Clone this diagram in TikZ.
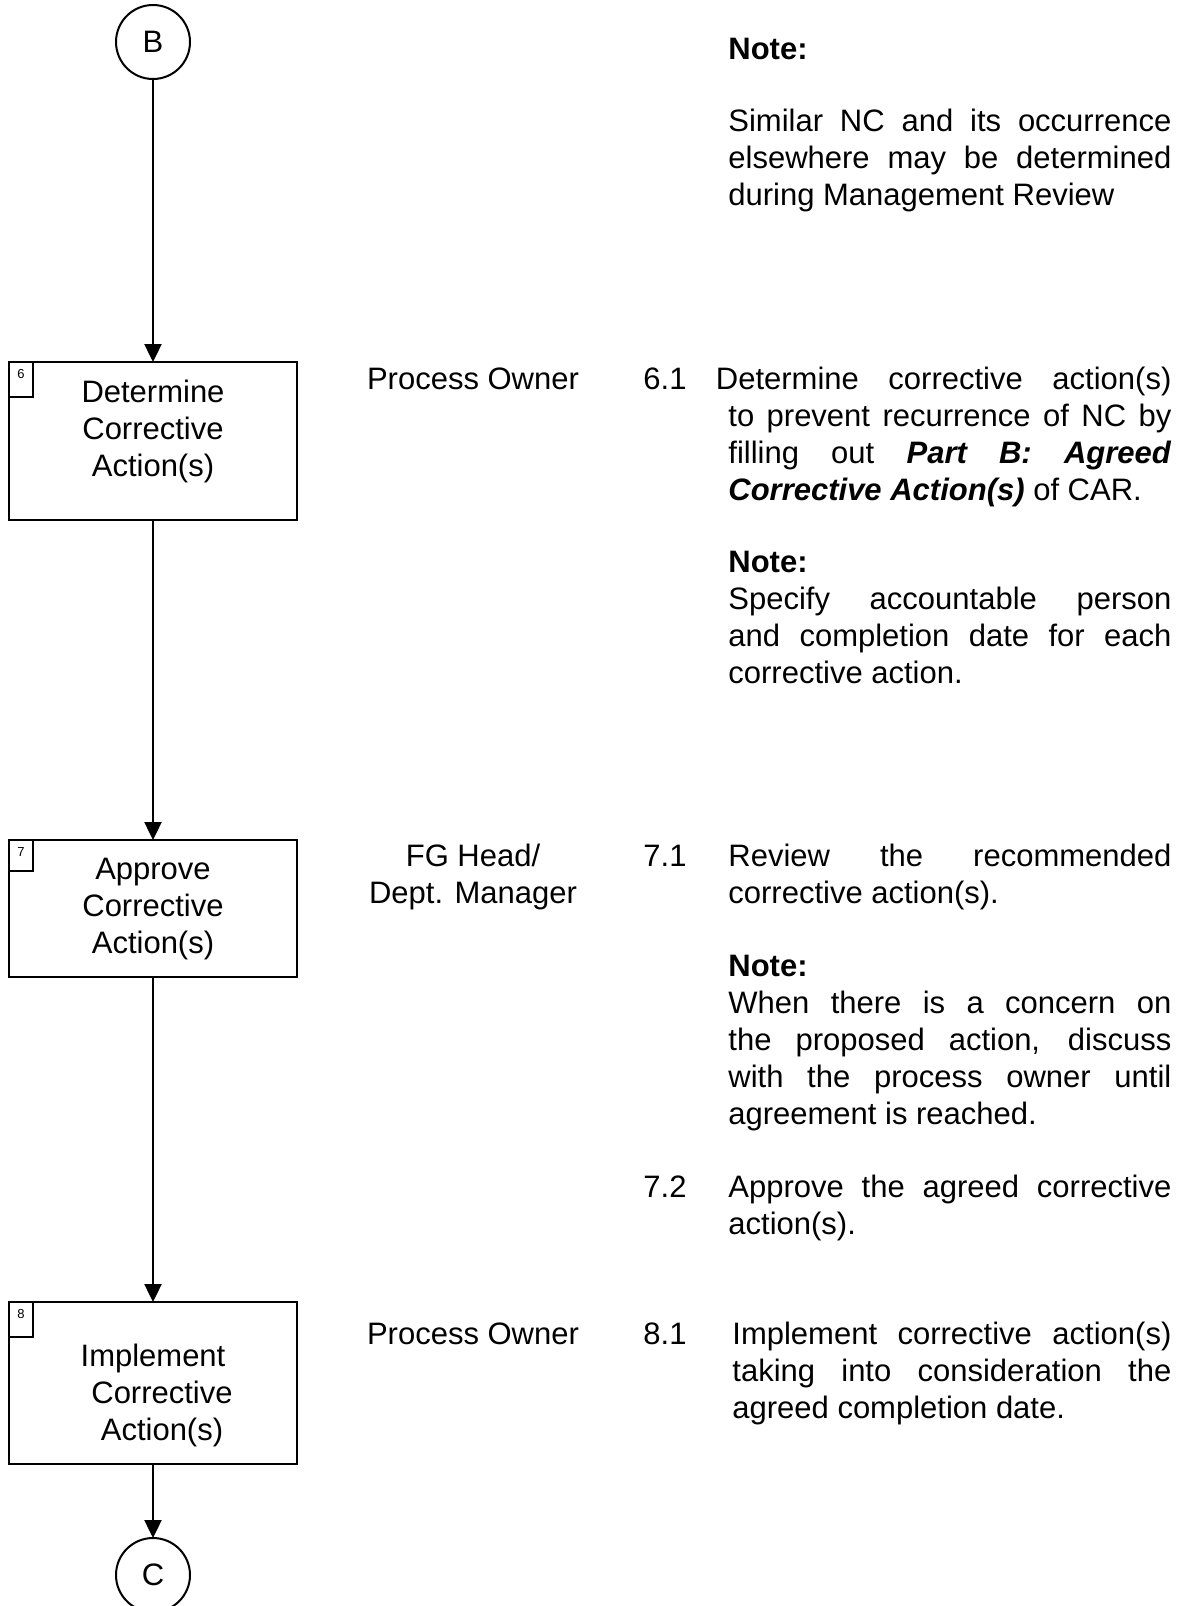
\documentclass[tikz,border=0pt]{standalone}
\usepackage{fontspec}
\setmainfont{Liberation Sans}
\usetikzlibrary{positioning,arrows.meta}

\newcommand{\stepfont}{\fontsize{15.5pt}{18.5pt}\selectfont}
\newcommand{\numfont}{\fontsize{6.5pt}{7.5pt}\selectfont}
\hyphenpenalty=10000
\tolerance=10000

\tikzset{
  stepbox/.style={draw, line width=1.2pt, minimum width=144pt, inner sep=0pt, outer sep=0pt},
  numbox/.style={draw, line width=0.6pt, minimum width=12pt, minimum height=17.5pt,
                 anchor=north west, inner sep=0pt, outer sep=0pt},
  numlabel/.style={font=\numfont, anchor=north, inner sep=0pt, yshift=-3.5pt},
  connector/.style={draw, circle, line width=1pt, minimum size=37pt, inner sep=0pt, outer sep=0pt},
  boxtext/.style={anchor=base, align=center, inner sep=0pt},
  flow/.style={line width=1.2pt, -{Triangle[length=9pt,width=8.5pt]}},
  role/.style={anchor=base, align=center, inner sep=0pt},
  itemno/.style={anchor=base west, inner sep=0pt},
  desc/.style={anchor=base west, inner sep=0pt, text width=221.5pt, align=justify}
}

\begin{document}
\begin{tikzpicture}[x=0.5pt, y=-0.5pt, font=\stepfont]
\useasboundingbox (0,0) rectangle (1185,1606);

% flow chart column
\node[connector] (B) at (153,42) {B};
\node[stepbox, minimum height=79pt, below=141.5pt of B] (s6) {};
\node[numbox, label={[numlabel]north:6}] (n6) at (s6.north west) {};
\node[boxtext] (t6) at ([yshift=-57pt]s6.north) {Determine\\Corrective\\Action(s)};

\node[stepbox, minimum height=68.5pt, below=160pt of s6] (s7) {};
\node[numbox, minimum height=15.5pt, label={[numlabel]north:7}] (n7) at (s7.north west) {};
\node[boxtext] (t7) at ([yshift=-56.5pt]s7.north) {Approve\\Corrective\\Action(s)};

\node[stepbox, minimum height=81pt, below=162.5pt of s7] (s8) {};
\node[numbox, label={[numlabel]north:8}] (n8) at (s8.north west) {};
\node[boxtext] (t8) at ([yshift=-69pt]s8.north) {Implement\\\hspace*{9pt}Corrective\\\hspace*{9pt}Action(s)};

\node[connector, below=37pt of s8] (C) {C};

\draw[flow] (B) -- (s6);
\draw[flow] (s6) -- (s7);
\draw[flow] (s7) -- (s8);
\draw[flow] (s8) -- (C);

% top note
\node[itemno] (note0) at (728,59) {\textbf{Note:}};
\node[desc] (d0) at (728,131) {Similar NC and its occurrence\linebreak
  elsewhere may be determined\linebreak during Management Review};

% step 6
\node[role] (r6) at (473,389) {Process Owner};
\node[itemno] (i61) at (643,389) {6.1};
\node[desc] (d61) at (728,389) {\hspace*{-6.25pt}Determine corrective action(s)\linebreak
  to prevent recurrence of NC by\linebreak
  filling out \textbf{\textit{Part B: Agreed}}\linebreak
  \textbf{\textit{Corrective Action(s)}} of CAR.};
\node[desc] (d62) at (728,572) {\textbf{Note:}\\Specify accountable person\linebreak
  and completion date for each\linebreak corrective action.};

% step 7
\node[role] (r7) at (473,903) {FG Head/\\Dept. Manager};
\node[itemno] (i71) at (643,866) {7.1};
\node[desc] (d71) at (728,866) {Review the recommended\linebreak corrective action(s).};
\node[desc] (d72) at (728,976) {\textbf{Note:}\\When there is a concern on\linebreak
  the proposed action, discuss\linebreak with the process owner until\linebreak
  agreement is reached.};
\node[itemno] (i72) at (643,1197) {7.2};
\node[desc] (d73) at (728,1197) {Approve the agreed corrective\linebreak action(s).};

% step 8
\node[role] (r8) at (473,1344) {Process Owner};
\node[itemno] (i81) at (643,1344) {8.1};
\node[desc, text width=219.5pt] (d81) at (732,1344) {Implement corrective action(s)\linebreak
  taking into consideration the\linebreak agreed completion date.};
\end{tikzpicture}
\end{document}
